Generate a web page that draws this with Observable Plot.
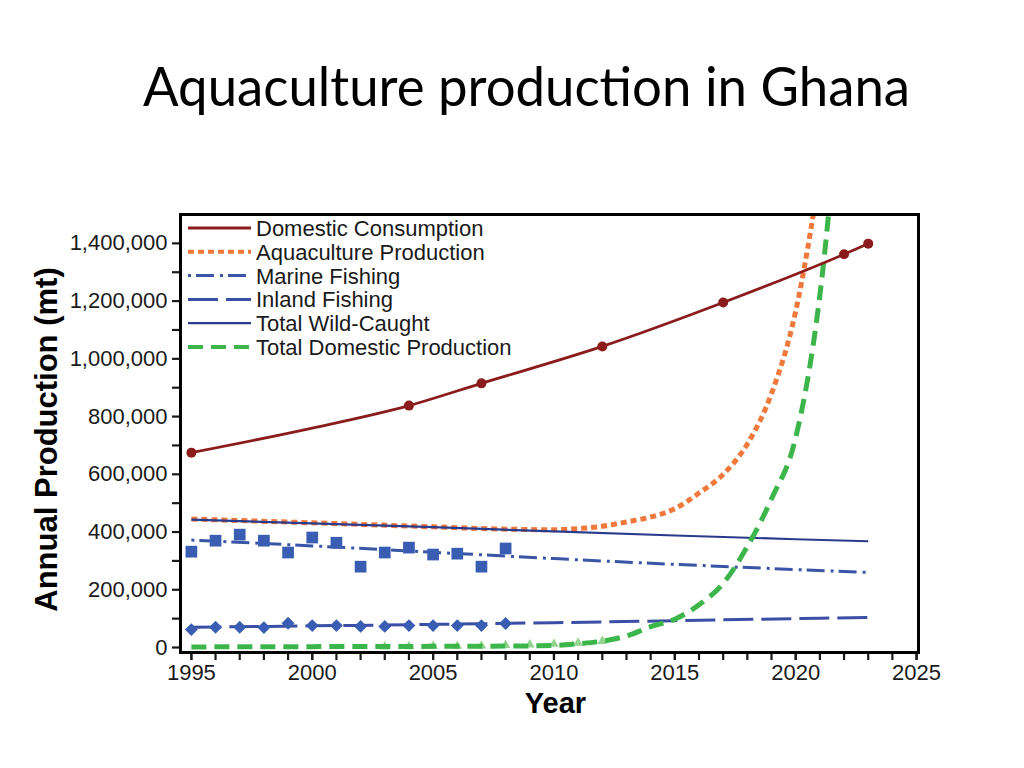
<!DOCTYPE html>
<html><head><meta charset="utf-8">
<script src="https://cdn.jsdelivr.net/npm/d3@7"></script>
<script src="https://cdn.jsdelivr.net/npm/@observablehq/plot@0.6"></script>
<style>
body{margin:0;background:#fff;width:1024px;height:768px;position:relative;overflow:hidden;font-family:"Liberation Sans",Arial,sans-serif}
#chart,#title,#legend{position:absolute;left:0;top:0}
</style></head><body>
<div id="chart"></div>
<svg id="title" width="1024" height="140"></svg>
<svg id="legend" width="600" height="380"></svg>
<script>
const titleText = "Aquaculture production in Ghana";
const xLabel = "Year";
const yLabel = "Annual Production (mt)";

const xMajorTicks = [1995, 2000, 2005, 2010, 2015, 2020, 2025];
const xMinorTicks = d3.range(1995, 2026);
const yMajorTicks = [0, 200000, 400000, 600000, 800000, 1000000, 1200000, 1400000];
const yMinorTicks = [100000, 300000, 500000, 700000, 900000, 1100000, 1300000];

// Domestic Consumption
const consumptionYears = [1995, 2000, 2004, 2007, 2012, 2017, 2022, 2023];
const consumptionValues = [675000, 760000, 838000, 915000, 1043000, 1195000, 1362000, 1399000];
const consumptionMarkerYears = [1995, 2004, 2007, 2012, 2017, 2022, 2023];
const consumptionMarkerValues = [675000, 838000, 915000, 1043000, 1195000, 1362000, 1399000];

// Aquaculture Production
const aquaYears = [1995, 2000, 2005, 2008, 2010, 2011, 2012, 2013, 2014, 2015, 2016, 2017, 2018, 2019, 2020, 2021, 2022];
const aquaValues = [445000, 432000, 418000, 410000, 408000, 412000, 420000, 435000, 452000, 481000, 535000, 600000, 705000, 880000, 1165000, 1650000, 2300000];

// Marine Fishing
const marineYears = [1995, 2000, 2005, 2010, 2015, 2020, 2023];
const marineValues = [372000, 352000, 330000, 308000, 288000, 270000, 260000];
const marineObsYears = [1995, 1996, 1997, 1998, 1999, 2000, 2001, 2002, 2003, 2004, 2005, 2006, 2007, 2008];
const marineObsValues = [332000, 370000, 391000, 370000, 329000, 381000, 363000, 280000, 329000, 346000, 322000, 325000, 280000, 343000];

// Inland Fishing
const inlandYears = [1995, 2000, 2005, 2010, 2015, 2020, 2023];
const inlandValues = [70000, 75000, 80000, 86000, 93000, 100000, 104000];
const inlandObsYears = [1995, 1996, 1997, 1998, 1999, 2000, 2001, 2002, 2003, 2004, 2005, 2006, 2007, 2008];
const inlandObsValues = [62000, 70000, 70000, 69000, 84000, 76000, 76000, 73000, 73000, 76000, 76000, 76000, 76000, 83000];

// Total Wild-Caught
const wildYears = [1995, 2000, 2005, 2010, 2015, 2020, 2023];
const wildValues = [443000, 430000, 417000, 402000, 388000, 375000, 368000];

// Total Domestic Production
const totalYears = [1995, 2000, 2005, 2008, 2010, 2011, 2012, 2013, 2014, 2015, 2016, 2017, 2018, 2019, 2020, 2021, 2022];
const totalValues = [2000, 3000, 4000, 5000, 7000, 13000, 22000, 40000, 72000, 98000, 148000, 222000, 350000, 515000, 727000, 1220000, 2100000];
const aquaObsYears = [2003, 2004, 2005, 2006, 2007, 2008, 2009, 2010, 2011, 2012];
const aquaObsValues = [3000, 4000, 5000, 5000, 6000, 8000, 10000, 12000, 16000, 22000];

const legendLabels = ["Domestic Consumption", "Aquaculture Production", "Marine Fishing", "Inland Fishing", "Total Wild-Caught", "Total Domestic Production"];

const C = {
  cons: "#8b1c1c", aqua: "#ef783a", marine: "#3a55a6", inland: "#3b4ea5",
  wild: "#2a3b8d", total: "#3cb54a", pts: "#3a5db4", tri: "#92d48c"
};
const styles = [
  {stroke: C.cons, width: 2.8, dash: null},
  {stroke: C.aqua, width: 5, dash: "6,4"},
  {stroke: C.marine, width: 3, dash: "3,5,18,6"},
  {stroke: C.inland, width: 3, dash: "30,8"},
  {stroke: C.wild, width: 2.2, dash: null},
  {stroke: C.total, width: 5, dash: "15,8"}
];

const zip = (xs, ys) => xs.map((x, i) => ({x, y: ys[i]}));
const cons = zip(consumptionYears, consumptionValues);
const consPts = zip(consumptionMarkerYears, consumptionMarkerValues);
const aqua = zip(aquaYears, aquaValues);
const marine = zip(marineYears, marineValues);
const marineObs = zip(marineObsYears, marineObsValues);
const inland = zip(inlandYears, inlandValues);
const inlandObs = zip(inlandObsYears, inlandObsValues);
const wild = zip(wildYears, wildValues);
const total = zip(totalYears, totalValues);
const aquaObs = zip(aquaObsYears, aquaObsValues);

const lineOpts = (s) => ({x: "x", y: "y", stroke: s.stroke, strokeWidth: s.width, strokeDasharray: s.dash,
  strokeLinecap: "butt", strokeLinejoin: "round", curve: "monotone-x", clip: true});

const chart = Plot.plot({
  width: 1024, height: 768,
  marginLeft: 180, marginRight: 106, marginTop: 214, marginBottom: 116,
  style: {fontFamily: "'Liberation Sans', Arial, sans-serif", color: "#1a1a1a", background: "transparent"},
  x: {domain: [1994.55, 2025.08]},
  y: {domain: [-17300, 1500000]},
  marks: [
    Plot.axisX({ticks: xMinorTicks, tickSize: 8, tickFormat: () => "", strokeWidth: 2.2, label: null}),
    Plot.axisX({ticks: xMajorTicks, tickSize: 8, tickPadding: 4, tickFormat: d3.format("d"), fontSize: 22, strokeWidth: 2.2, label: null}),
    Plot.axisY({ticks: yMinorTicks, tickSize: 8, tickFormat: () => "", strokeWidth: 2.2, label: null}),
    Plot.axisY({ticks: yMajorTicks, tickSize: 8, tickPadding: 5, tickFormat: d3.format(","), fontSize: 22, strokeWidth: 2.2, label: null}),
    Plot.line(marine, lineOpts(styles[2])),
    Plot.line(inland, lineOpts(styles[3])),
    Plot.dot(marineObs, {x: "x", y: "y", symbol: "square", r: 6.6, fill: C.pts, stroke: "none"}),
    Plot.dot(inlandObs, {x: "x", y: "y", symbol: "diamond2", r: 5.8, fill: C.pts, stroke: "none"}),
    Plot.line(aqua, lineOpts(styles[1])),
    Plot.line(wild, lineOpts(styles[4])),
    Plot.dot(aquaObs, {x: "x", y: "y", symbol: "triangle", r: 3.6, fill: C.tri, stroke: "none"}),
    Plot.line(total, lineOpts(styles[5])),
    Plot.line(cons, lineOpts(styles[0])),
    Plot.dot(consPts, {x: "x", y: "y", r: 5, fill: C.cons, stroke: "none"}),
    Plot.frame({stroke: "#000", strokeWidth: 3}),
    Plot.text([yLabel], {text: d => d, frameAnchor: "left", textAnchor: "middle", lineAnchor: "middle", rotate: -90, dx: -133, dy: 6, fontSize: 31, fontWeight: "bold", fill: "#000"}),
    Plot.text([xLabel], {text: d => d, frameAnchor: "bottom", textAnchor: "middle", lineAnchor: "middle", dx: 6, dy: 51, fontSize: 29, fontWeight: "bold", fill: "#000"})
  ]
});
document.getElementById("chart").appendChild(chart);

// Title
d3.select("#title").append("text")
  .attr("x", 143).attr("y", 106)
  .attr("textLength", 767).attr("lengthAdjust", "spacingAndGlyphs")
  .attr("font-family", "Lato, 'Open Sans', sans-serif").attr("font-size", 54).attr("fill", "#000")
  .text(titleText);

// Legend
const lg = d3.select("#legend");
legendLabels.forEach((lab, i) => {
  const yy = 228 + i * 23.8;
  const s = styles[i];
  lg.append("line").attr("x1", 188).attr("x2", 251).attr("y1", yy).attr("y2", yy)
    .attr("stroke", s.stroke).attr("stroke-width", i === 0 ? 3 : Math.min(s.width, 4))
    .attr("stroke-dasharray", s.dash || null);
  lg.append("text").attr("x", 256).attr("y", yy + 8).attr("font-size", 22)
    .attr("font-family", "'Liberation Sans', Arial, sans-serif").attr("fill", "#1a1a1a").text(lab);
});
</script>
</body></html>
